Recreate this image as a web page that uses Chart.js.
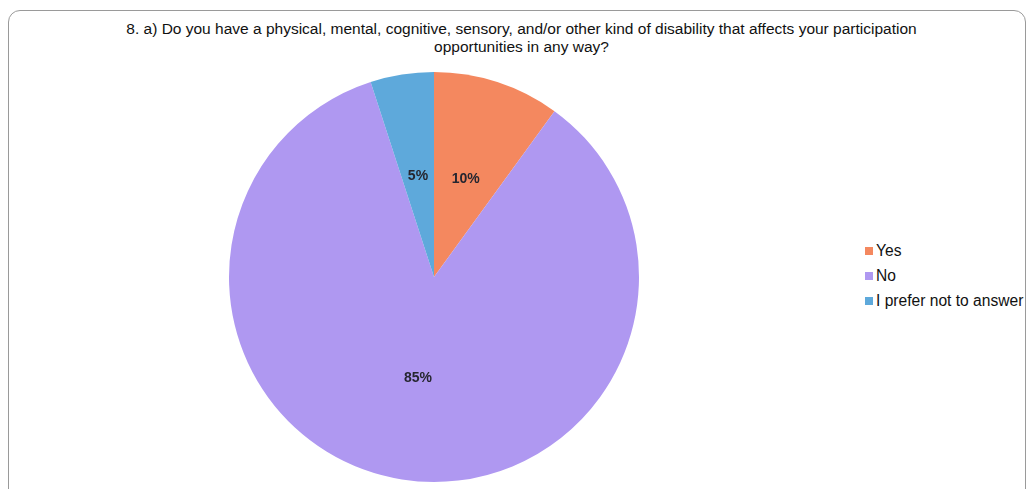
<!DOCTYPE html>
<html>
<head>
<meta charset="utf-8">
<script src="https://cdn.jsdelivr.net/npm/chart.js@4/dist/chart.umd.min.js"></script>
<style>
  body { margin: 0; background: #fff; font-family: "Liberation Sans", Arial, sans-serif; }
  #wrap { position: relative; width: 1032px; height: 489px; overflow: hidden; }
  #frame {
    position: absolute; left: 8px; top: 10px; width: 1018px; height: 520px;
    border: 1.5px solid #9a9a9a; border-radius: 12px; box-sizing: border-box;
  }
  #title {
    position: absolute; left: 0; top: 20px; width: 1043px; text-align: center;
    font-size: 15.5px; line-height: 18px; color: #111;
  }
  #legend { position: absolute; left: 865px; top: 242px; font-size: 15.6px; color: #111; }
  .item { height: 25px; line-height: 18px; white-space: nowrap; }
  .box { display: inline-block; width: 8px; height: 8px; margin-right: 3px; vertical-align: 1px; }
  canvas { position: absolute; left: 0; top: 0; }
</style>
</head>
<body>
<div id="wrap">
  <div id="frame"></div>
  <div id="title">8. a) Do you have a physical, mental, cognitive, sensory, and/or other kind of disability that affects your participation<br>opportunities in any way?</div>
  <div id="legend"></div>
  <canvas id="pie" width="1032" height="489"></canvas>
</div>
<script>
const labels = ["Yes", "No", "I prefer not to answer"];
const values = [10, 85, 5];
const sliceColors = ['#F4885F', '#AF98F1', '#5EA9DB'];

// legend built from the arrays
const legend = document.getElementById('legend');
labels.forEach((l, i) => {
  const row = document.createElement('div');
  row.className = 'item';
  row.innerHTML = '<span class="box" style="background:' + sliceColors[i] + '"></span>' + l;
  legend.appendChild(row);
});

// percentage labels in the middle of each slice
const sliceLabels = {
  id: 'sliceLabels',
  afterDatasetsDraw(chart) {
    const c = chart.ctx;
    const total = values.reduce((a, b) => a + b, 0);
    c.save();
    c.font = 'bold 14px "Liberation Sans", Arial, sans-serif';
    c.fillStyle = '#262630';
    c.textAlign = 'center';
    c.textBaseline = 'middle';
    chart.getDatasetMeta(0).data.forEach((arc, i) => {
      const p = arc.getCenterPoint();
      c.fillText(Math.round(values[i] / total * 100) + '%', p.x, p.y);
    });
    c.restore();
  }
};

const ctx = document.getElementById('pie').getContext('2d');

new Chart(ctx, {
  type: 'pie',
  data: {
    labels: labels,
    datasets: [{
      data: values,
      backgroundColor: sliceColors,
      borderWidth: 0
    }]
  },
  options: {
    responsive: false,
    animation: false,
    layout: {
      padding: { top: 72, bottom: 7, left: 0, right: 164 }
    },
    plugins: {
      legend: { display: false },
      tooltip: { enabled: false }
    }
  },
  plugins: [sliceLabels]
});
</script>
</body>
</html>
